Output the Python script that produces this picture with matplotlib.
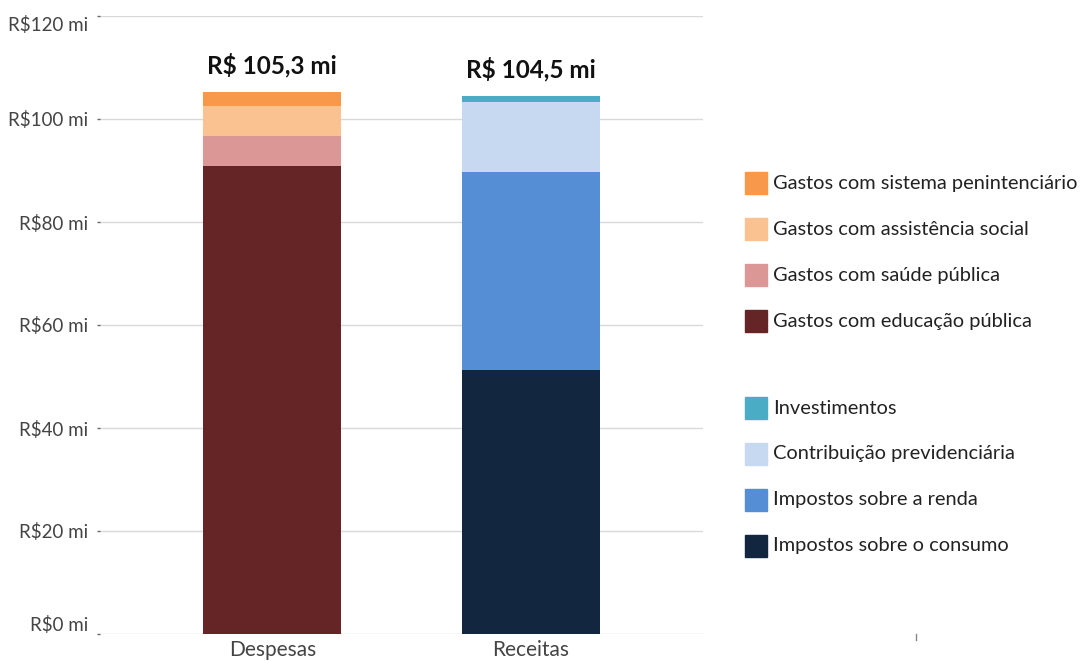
import matplotlib
matplotlib.use("Agg")
import matplotlib.pyplot as plt
from matplotlib.patches import Rectangle
from matplotlib.lines import Line2D

plt.rcParams['font.family'] = ['Lato', 'DejaVu Sans']

# Dados (R$ mi)
categorias = ['Despesas', 'Receitas']

despesas_labels = ['Gastos com educação pública', 'Gastos com saúde pública',
                   'Gastos com assistência social', 'Gastos com sistema penintenciário']
despesas_valores = [90.9, 5.8, 5.8, 2.8]
despesas_cores = ['#652426', '#DB9696', '#FAC291', '#F7984A']

receitas_labels = ['Impostos sobre o consumo', 'Impostos sobre a renda',
                   'Contribuição previdenciária', 'Investimentos']
receitas_valores = [51.3, 38.4, 13.6, 1.2]
receitas_cores = ['#12263F', '#558ED5', '#C6D9F0', '#4BACC6']

totais_texto = ['R$ 105,3 mi', 'R$ 104,5 mi']
yticks = [0, 20, 40, 60, 80, 100, 120]

W, H = 1080, 661
fig = plt.figure(figsize=(10.8, 6.61), dpi=100)
ax = fig.add_axes([100 / W, 1 - 634 / H, 603 / W, 618 / H])

largura = 0.535

# barras empilhadas
base = 0
for v, c in zip(despesas_valores, despesas_cores):
    ax.bar(0, v, bottom=base, width=largura, color=c, zorder=3)
    base += v
total_desp = base

base = 0
for v, c in zip(receitas_valores, receitas_cores):
    ax.bar(1, v, bottom=base, width=largura, color=c, zorder=3)
    base += v
total_rec = base

for i, (tot, txt) in enumerate(zip([total_desp, total_rec], totais_texto)):
    ax.annotate(txt, (i, tot), xytext=(0, 13), textcoords='offset points',
                ha='center', va='baseline', fontsize=17.5, fontweight='bold',
                color='#111111')

ax.set_xlim(-0.667, 1.667)
ax.set_ylim(0, 120)
ax.set_yticks(yticks)
ax.set_yticklabels([f'R${t} mi' for t in yticks])
ax.set_xticks([0, 1])
ax.set_xticklabels(categorias)

ax.grid(axis='y', color='#D9D9D9', linewidth=1, zorder=0)
for s in ax.spines.values():
    s.set_visible(False)
ax.tick_params(axis='y', length=2.5, width=1, color='#666666', pad=6,
               labelsize=13.5, labelcolor='#444444')
ax.tick_params(axis='x', length=0, pad=4, labelsize=15, labelcolor='#444444')

# primeiro e último rótulo ficam dentro da área
ylabs = ax.get_yticklabels()
ylabs[0].set_va('bottom')
ylabs[-1].set_va('top')

# legenda manual
def item(y_px, label, cor):
    fig.add_artist(Rectangle((745 / W, 1 - (y_px + 11) / H), 22 / W, 22 / H,
                             transform=fig.transFigure, color=cor))
    fig.text(773 / W, 1 - y_px / H, label, ha='left', va='center',
             fontsize=14.4, color='#222222')

leg_desp = list(zip(despesas_labels, despesas_cores))[::-1]
leg_rec = list(zip(receitas_labels, receitas_cores))[::-1]
for k, (lab, cor) in enumerate(leg_desp):
    item(183 + 46 * k, lab, cor)
for k, (lab, cor) in enumerate(leg_rec):
    item(408 + 46 * k, lab, cor)

# pequeno traço solto no canto inferior
fig.add_artist(Line2D([916 / W, 916 / W], [1 - 634 / H, 1 - 640 / H],
                      color='#888888', linewidth=1))

fig.savefig('out.png', dpi=100)
